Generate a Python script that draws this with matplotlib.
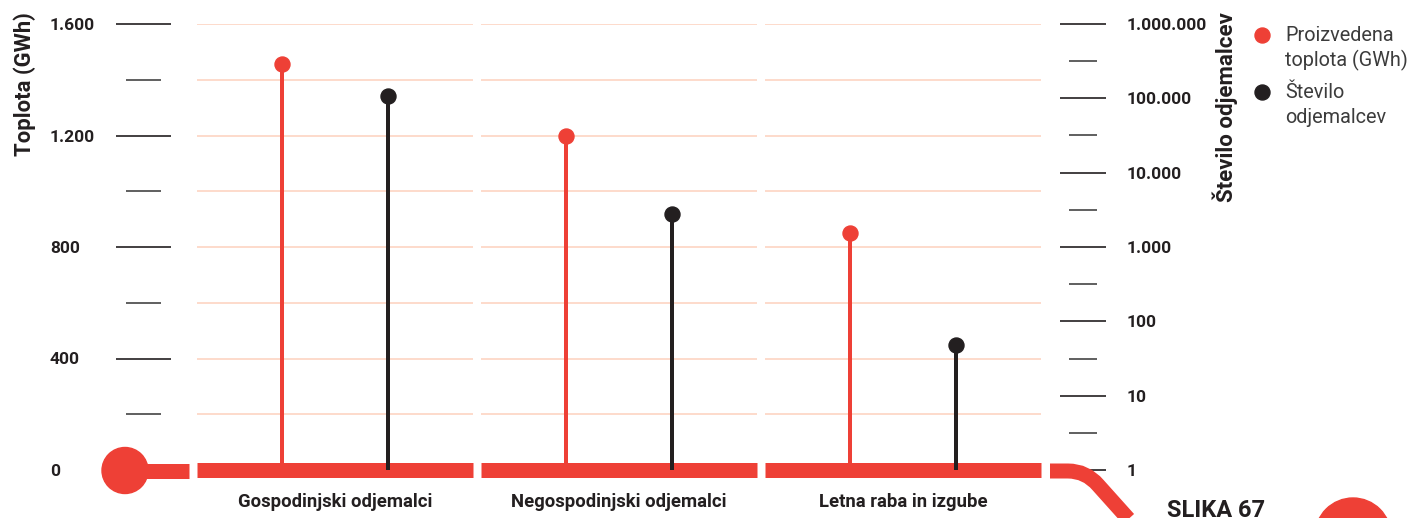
import matplotlib
matplotlib.use("Agg")
import matplotlib.pyplot as plt
from matplotlib.ticker import FixedLocator, NullFormatter
from matplotlib.transforms import Affine2D
from matplotlib.path import Path
from matplotlib.patches import PathPatch, Circle
from matplotlib.lines import Line2D

plt.rcParams['font.family'] = ['Roboto', 'DejaVu Sans']

# data
categories = ['Gospodinjski odjemalci', 'Negospodinjski odjemalci', 'Letna raba in izgube']
heat_gwh = [1455, 1200, 850]
customers = [106000, 2790, 48]

heat_ticks = [0, 400, 800, 1200, 1600]
heat_labels = ['0', '400', '800', '1.200', '1.600']
heat_minor = [200, 600, 1000, 1400]
cust_ticks = [1, 10, 100, 1000, 10000, 100000, 1000000]
cust_labels = ['1', '10', '100', '1.000', '10.000', '100.000', '1.000.000']
cust_minor = [10 ** (k + 0.5) for k in range(6)]

RED = '#ee4036'
BLACK = '#231f20'
GRID = '#fddacb'
W, H = 1412, 518
PT = 0.72  # points per pixel at dpi 100

fig = plt.figure(figsize=(W / 100, H / 100), dpi=100)
# pixel coords measured from the top-left corner
pix = Affine2D().scale(1, -1).translate(0, H) + Affine2D().scale(1 / W, 1 / H) + fig.transFigure

ax = fig.add_axes([197 / W, (H - 470) / H, 844 / W, 446 / H])
ax.set_xlim(-0.486, 2.486)
ax.set_ylim(0, 1600)
ax.patch.set_alpha(0)
for s in ax.spines.values():
    s.set_visible(False)

ax2 = ax.twinx()
ax2.set_yscale('log')
ax2.set_ylim(1, 1e6)
for s in ax2.spines.values():
    s.set_visible(False)

# segmented grid lines, one piece per category
half = 0.486
for i in range(3):
    ax.hlines(heat_ticks[1:] + heat_minor, i - half, i + half,
              color=GRID, lw=1.4, zorder=0)

# thick red baseline
for i in range(3):
    ax.plot([i - half, i + half], [0, 0], color=RED, lw=15 * PT,
            solid_capstyle='butt', clip_on=False, zorder=3)
fig.add_artist(Line2D([125, 189], [470.5, 470.5], transform=pix, color=RED,
                      lw=15 * PT, solid_capstyle='butt'))
fig.add_artist(Circle((125, 470.5), 23, transform=pix, color=RED))
curve = Path([(1050, 471), (1068, 471), (1086, 471), (1098, 485), (1150, 543)],
             [Path.MOVETO, Path.LINETO, Path.CURVE3, Path.CURVE3, Path.LINETO])
fig.add_artist(PathPatch(curve, transform=pix, fill=False, edgecolor=RED,
                         lw=15 * PT, capstyle='butt'))
fig.add_artist(Circle((1353, 536), 38, transform=pix, color=RED))

# stems
off = 0.185
xr = [i - off for i in range(3)]
xb = [i + off for i in range(3)]
ax.vlines(xr, 0, heat_gwh, color=RED, lw=4 * PT, zorder=2)
ax.plot(xr, heat_gwh, 'o', color=RED, ms=15 * PT, zorder=4)
ax2.vlines(xb, 1, customers, color=BLACK, lw=4 * PT, zorder=2)
ax2.plot(xb, customers, 'o', color=BLACK, ms=15 * PT, zorder=4)

# left axis ticks
ax.spines['left'].set_position(('axes', (142.5 - 197) / 844))
ax.set_yticks(heat_ticks, heat_labels, ha='left', fontsize=12.5,
              fontweight='bold', color=BLACK)
ax.yaxis.set_minor_locator(FixedLocator(heat_minor))
ax.tick_params(axis='y', which='major', direction='inout', length=55 * PT,
               width=1.2, color=BLACK, pad=65 * PT)
ax.tick_params(axis='y', which='minor', direction='inout', length=35 * PT,
               width=1.2, color='#444444')

# right axis ticks
ax2.spines['right'].set_position(('axes', (1083 - 197) / 844))
ax2.set_yticks(cust_ticks, cust_labels, fontsize=12.5, fontweight='bold', color=BLACK)
ax2.yaxis.set_minor_locator(FixedLocator(cust_minor))
ax2.yaxis.set_minor_formatter(NullFormatter())
ax2.tick_params(axis='y', which='major', direction='inout', length=46 * PT,
                width=1.2, color=BLACK, pad=21 * PT)
ax2.tick_params(axis='y', which='minor', direction='inout', length=28 * PT,
                width=1.2, color='#444444')

# category labels
ax.set_xticks(range(3), categories, fontsize=13.3, fontweight='bold', color=BLACK)
ax.tick_params(axis='x', length=0, pad=23 * PT)

# axis titles
fig.text(25 / W, 1 - 12 / H, 'Toplota (GWh)', rotation=90, ha='center', va='top',
         fontsize=15.8, fontweight='bold', color=BLACK)
fig.text(1225 / W, 1 - 12 / H, 'Število odjemalcev', rotation=90, ha='center', va='top',
         fontsize=16, fontweight='bold', color=BLACK)

# legend
fig.add_artist(Line2D([1262], [35], transform=pix, marker='o', ms=15 * PT,
                      color=RED, lw=0))
fig.add_artist(Line2D([1262], [92], transform=pix, marker='o', ms=15 * PT,
                      color=BLACK, lw=0))
for txt, yb in [('Proizvedena', 41), ('toplota (GWh)', 66), ('Število', 98), ('odjemalcev', 123)]:
    fig.text(1285 / W, 1 - yb / H, txt, ha='left', va='baseline', fontsize=14.3,
             color='#3c3c3c')

fig.text(1167 / W, 1 - 499 / H, 'SLIKA 67', ha='left', va='top', fontsize=17,
         fontweight='bold', color=BLACK)

fig.savefig('out.png', dpi=100)
